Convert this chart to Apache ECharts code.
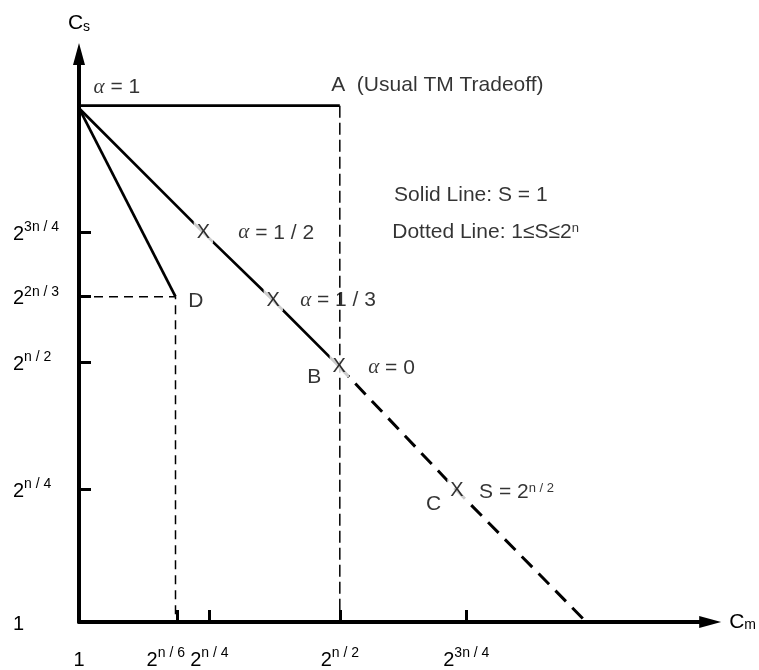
<!DOCTYPE html>
<html>
<head>
<meta charset="utf-8">
<script src="https://cdn.jsdelivr.net/npm/echarts@6/dist/echarts.min.js"></script>
<style>
html, body { margin: 0; padding: 0; background: #fff; }
#chart { width: 759px; height: 670px; }
</style>
</head>
<body>
<div id="chart"></div>
<script>
// axis ticks (diagram units) and the exponent shown on each label ('' = "1")
var xTickVals = [0, 37.5, 50, 100, 148.5];
var xTickExp = ['', 'n / 6', 'n / 4', 'n / 2', '3n / 4'];
var yTickVals = [0, 51.5, 100.5, 126, 151];
var yTickExp = ['', 'n / 4', 'n / 2', '2n / 3', '3n / 4'];

// curves
var lineTop = [[0, 200], [100, 200]];              // alpha = 1, up to A
var dropA = [[100, 200], [100, 0]];                // dashed drop from A
var solidMain = [[0, 199], [47.5, 151], [74.3, 124.7], [99.6, 99.1]];
var dottedMain = [[99.6, 99.1], [144.7, 51.1], [194.5, 0]];
var lineD = [[0, 199], [37, 126]];
var dropD = [[0, 126], [37, 126], [37, 0]];

// the X marks on the tradeoff line
var xMarks = [[47.5, 151], [74.3, 124.7], [99.6, 99.1], [144.7, 51.1]];

// text notes: left edge x, middle y, text
var noteX = [5.4, 96.5, 120.6, 119.9, 60.9, 84.6, 41.7, 87.3, 110.7, 132.9, 153.2];
var noteY = [207.2, 208, 165.4, 151, 150.7, 124.7, 124.3, 94.9, 98.4, 45.7, 50.3];
var noteText = [
  '{g|α} = 1',
  'A  (Usual TM Tradeoff)',
  'Solid Line: S = 1',
  'Dotted Line: 1≤S≤2{s|n}',
  '{g|α} = 1 / 2',
  '{g|α} = 1 / 3',
  'D',
  'B',
  '{g|α} = 0',
  'C',
  'S = 2{s|n / 2}'
];

var FONT = 'Liberation Sans';
var INK = '#000';

var tickRich = {
  b: { fontSize: 20, fontFamily: FONT, color: INK, lineHeight: 24, verticalAlign: 'bottom' },
  s: { fontSize: 14, fontFamily: FONT, color: INK, verticalAlign: 'top' },
  sl: { fontSize: 14, fontFamily: FONT, color: INK, verticalAlign: 'top', padding: [0, 22, 0, 0] }
};

function tickLabel(vals, exps) {
  return function (v) {
    var i = vals.indexOf(v);
    var e = i < 0 ? '' : exps[i];
    if (!e) return '{b|1}';
    // n/6 label sits left of its tick in the original
    return '{b|2}{' + (e === 'n / 6' ? 'sl' : 's') + '|' + e + '}';
  };
}

function lineSeries(data, width, type) {
  return {
    type: 'line',
    data: data,
    symbol: 'none',
    silent: true,
    z: 2,
    lineStyle: { color: INK, width: width, type: type || 'solid' }
  };
}

var notes = noteX.map(function (x, i) {
  return { name: noteText[i], value: [x, noteY[i]] };
});

var chart = echarts.init(document.getElementById('chart'));

var option = {
  animation: false,
  backgroundColor: '#fff',
  grid: { left: 79, right: 48, top: 54, bottom: 48 },
  xAxis: {
    type: 'value',
    min: 0,
    max: 242,
    splitLine: { show: false },
    axisLine: {
      lineStyle: { color: INK, width: 4 },
      symbol: ['none', 'triangle'],
      symbolSize: [12, 22]
    },
    axisTick: {
      inside: true,
      length: 12,
      lineStyle: { color: INK, width: 3 },
      customValues: xTickVals.slice(1)
    },
    axisLabel: {
      customValues: xTickVals,
      margin: 24,
      formatter: tickLabel(xTickVals, xTickExp),
      rich: tickRich
    },
    name: '{b|C}{u|m}',
    nameLocation: 'end',
    nameGap: 19,
    nameTextStyle: {
      rich: {
        b: { fontSize: 21, fontFamily: FONT, color: INK },
        u: { fontSize: 14, fontFamily: FONT, color: INK, verticalAlign: 'bottom' }
      }
    }
  },
  yAxis: {
    type: 'value',
    min: 0,
    max: 220,
    splitLine: { show: false },
    axisLine: {
      lineStyle: { color: INK, width: 4 },
      symbol: ['none', 'triangle'],
      symbolSize: [12, 22]
    },
    axisTick: {
      inside: true,
      length: 12,
      lineStyle: { color: INK, width: 3 },
      customValues: yTickVals.slice(1)
    },
    axisLabel: {
      customValues: yTickVals,
      align: 'left',
      margin: 66,
      formatter: tickLabel(yTickVals, yTickExp),
      rich: tickRich
    },
    name: '{b|C}{u|s}',
    nameLocation: 'end',
    nameGap: 20,
    nameTextStyle: {
      rich: {
        b: { fontSize: 21, fontFamily: FONT, color: INK },
        u: { fontSize: 14, fontFamily: FONT, color: INK, verticalAlign: 'bottom' }
      }
    }
  },
  series: [
    lineSeries(lineTop, 2.7),
    lineSeries(dropA, 1.5, [12, 5]),
    lineSeries(solidMain, 2.7),
    lineSeries(dottedMain, 3, [15, 9]),
    lineSeries(lineD, 2.7),
    lineSeries(dropD, 1.5, [9, 6]),
    {
      type: 'scatter',
      data: xMarks,
      symbolSize: 1,
      silent: true,
      z: 5,
      itemStyle: { color: '#fff' },
      label: {
        show: true,
        position: 'right',
        distance: 0,
        align: 'center',
        formatter: 'X',
        fontSize: 20,
        fontFamily: FONT,
        color: INK,
        textBorderWidth: 0,
        backgroundColor: '#fff',
        padding: [1, 3]
      }
    },
    {
      type: 'scatter',
      data: notes,
      symbolSize: 1,
      silent: true,
      z: 6,
      itemStyle: { color: 'rgba(0,0,0,0)' },
      label: {
        show: true,
        position: 'right',
        distance: 0,
        formatter: '{b}',
        fontSize: 21,
        fontFamily: FONT,
        color: INK,
        rich: {
          g: { fontSize: 21, fontFamily: 'Liberation Serif', fontStyle: 'italic', color: INK },
          s: { fontSize: 13, fontFamily: FONT, color: INK, verticalAlign: 'top' }
        }
      }
    }
  ]
};

chart.setOption(option);
</script>
</body>
</html>
